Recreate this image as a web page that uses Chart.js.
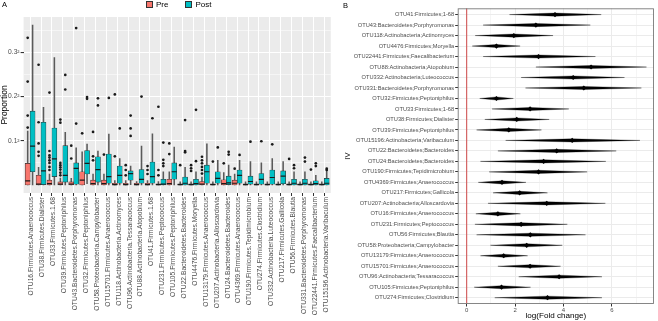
<!DOCTYPE html>
<html><head><meta charset="utf-8">
<script src="https://cdn.jsdelivr.net/npm/chart.js@4/dist/chart.umd.min.js"></script>
<style>
html,body{margin:0;padding:0;background:#fff;}
#wrap{position:relative;width:658px;height:321px;overflow:hidden;font-family:"Liberation Sans",Arial,sans-serif;}
#cA{position:absolute;left:0;top:0;}
#cB{position:absolute;left:336px;top:0;}
.tag{position:absolute;font-size:7.5px;color:#000;line-height:1;}
#legend{position:absolute;top:1px;left:146px;height:8px;font-size:8px;line-height:8px;color:#000;white-space:nowrap;}
#legend span.key{display:inline-block;width:5px;height:5px;border:0.8px solid #333;vertical-align:middle;margin-right:3px;}
#legend span.item{display:inline-block;vertical-align:middle;margin-right:17px;}
</style></head>
<body><div id="wrap">
<canvas id="cA" width="336" height="321" style="width:336px;height:321px"></canvas>
<canvas id="cB" width="322" height="321" style="width:322px;height:321px"></canvas>
<div class="tag" style="left:2px;top:1px">A</div>
<div class="tag" style="left:343px;top:2px">B</div>
<div id="legend"></div>
</div>
<script>
// ---------- Panel A data (values on the sqrt-proportion axis) ----------
const otuLabels = ["OTU16.Firmicutes.Anaerococcus","OTU38.Firmicutes.Dialister","OTU33.Firmicutes.1.68","OTU39.Firmicutes.Peptoniphilus","OTU43.Bacteroidetes.Porphyromonas","OTU32.Firmicutes.Peptoniphilus","OTU58.Proteobacteria.Campylobacter","OTU15701.Firmicutes.Anaerococcus","OTU118.Actinobacteria.Actinomyces","OTU96.Actinobacteria.Tessaracoccus","OTU88.Actinobacteria.Atopobium","OTU41.Firmicutes.1.68","OTU231.Firmicutes.Peptococcus","OTU105.Firmicutes.Peptoniphilus","OTU22.Bacteroidetes.Bacteroides","OTU4476.Firmicutes.Moryella","OTU13179.Firmicutes.Anaerococcus","OTU207.Actinobacteria.Alloscardovia","OTU24.Bacteroidetes.Bacteroides","OTU4369.Firmicutes.Anaerococcus","OTU190.Firmicutes.Tepidimicrobium","OTU274.Firmicutes.Clostridium","OTU332.Actinobacteria.Luteococcus","OTU217.Firmicutes.Gallicola","OTU56.Firmicutes.Blautia","OTU331.Bacteroidetes.Porphyromonas","OTU22441.Firmicutes.Faecalibacterium","OTU15196.Actinobacteria.Varibaculum"];
const seriesNames = ["Pre","Post"];
const seriesColors = ["#F8766D","#00BFC4"];

const preLow    = [0,0,0,0,0,0,0,0,0,0,0,0,0,0,0,0,0,0,0,0,0,0,0,0,0,0,0,0];
const preQ1     = [0,0,0,0,0,0,0,0,0,0,0,0,0,0,0,0,0,0,0,0,0,0,0,0,0,0,0,0];
const preMedian = [0.0095,0.002,0.003,0.002,0.002,0.011,0.003,0.003,0.001,0.001,0.001,0.001,0.001,0.003,0.001,0.001,0.002,0.001,0.003,0.004,0.001,0.001,0.001,0.001,0.001,0.001,0.001,0.001];
const preQ3     = [0.049,0.022,0.011,0.007,0.007,0.030,0.011,0.011,0.004,0.004,0.004,0.004,0.003,0.013,0.003,0.003,0.008,0.003,0.012,0.011,0.003,0.003,0.003,0.003,0.003,0.003,0.003,0.003];
const preHigh   = [0.122,0.040,0.025,0.016,0.015,0.075,0.025,0.025,0.010,0.010,0.008,0.010,0.008,0.030,0.007,0.007,0.018,0.007,0.028,0.025,0.007,0.007,0.007,0.007,0.007,0.007,0.007,0.007];
const preOutliers = [[0.333,0.234,0.157,0.130],[0.272,0.142,0.094,0.075,0.066],[0.209,0.077,0.067,0.062,0.056,0.050,0.041,0.034],[0.148,0.141,0.050,0.045,0.040,0.035,0.028,0.022],[0.089,0.060],[0.117],[0.120,0.065,0.056],[0.069],[0.205,0.065],[0.045,0.034,0.022],[],[0.043,0.034,0.025],[0.177,0.034,0.022],[0.094,0.070],[0.045],[0.045,0.038,0.032],[0.064,0.056,0.049,0.041,0.034,0.026],[0.053],[0.049],[0.037],[],[],[],[],[0.059],[],[0.035],[]];

const postLow    = [0,0,0,0,0,0.003,0,0,0,0.001,0,0,0,0,0,0,0,0,0,0,0,0,0,0,0,0,0,0];
const postQ1     = [0.030,0.001,0.019,0.0066,0.002,0.025,0.0066,0.004,0.004,0.011,0.004,0.004,0,0.013,0,0,0.004,0.004,0.001,0.004,0.002,0.002,0.002,0.003,0,0,0,0];
const postMedian = [0.088,0.032,0.059,0.022,0.0376,0.049,0.035,0.019,0.022,0.026,0.013,0.019,0.002,0.030,0.004,0.003,0.030,0.015,0.005,0.022,0.008,0.013,0.017,0.020,0.004,0.004,0.003,0.004];
const postQ3     = [0.167,0.142,0.129,0.089,0.050,0.078,0.064,0.070,0.043,0.032,0.035,0.052,0.013,0.050,0.018,0.013,0.045,0.030,0.020,0.034,0.020,0.026,0.034,0.032,0.013,0.013,0.0095,0.015];
const postHigh   = [0.362,0.176,0.288,0.119,0.084,0.0925,0.077,0.115,0.060,0.043,0.088,0.116,0.030,0.086,0.040,0.030,0.093,0.056,0.045,0.056,0.053,0.050,0.060,0.053,0.030,0.030,0.022,0.034];
const postOutliers = [[],[],[],[0.249,0.216],[0.355,0.139],[0.199,0.195],[0.196,0.180],[0.197],[0.128],[0.157,0.128,0.111],[0.200],[0.151],[0.096,0.057,0.049,0.043],[],[0.147,0.077,0.074],[0.170,0.054],[],[0.085],[0.075,0.069],[0.068],[0.098],[0.099],[0.092],[],[0.045,0.038],[0.062,0.053],[0.049,0.043],[0.037,0.034]];

const yMajorTicks = [0.1,0.2,0.3];
const yMajorLabels = ["0.1\u00B2","0.2\u00B2","0.3\u00B2"];
const yMinorTicks = [0.05,0.15,0.25,0.35];

// ---------- Panel B data ----------
const fcLabels = ["OTU41:Firmicutes;1-68","OTU43:Bacteroidetes;Porphyromonas","OTU118:Actinobacteria;Actinomyces","OTU4476:Firmicutes;Moryella","OTU22441:Firmicutes;Faecalibacterium","OTU88:Actinobacteria;Atopobium","OTU332:Actinobacteria;Luteococcus","OTU331:Bacteroidetes;Porphyromonas","OTU32:Firmicutes;Peptoniphilus","OTU33:Firmicutes;1-68","OTU38:Firmicutes;Dialister","OTU39:Firmicutes;Peptoniphilus","OTU15196:Actinobacteria;Varibaculum","OTU22:Bacteroidetes;Bacteroides","OTU24:Bacteroidetes;Bacteroides","OTU190:Firmicutes;Tepidimicrobium","OTU4369:Firmicutes;Anaerococcus","OTU217:Firmicutes;Gallicola","OTU207:Actinobacteria;Alloscardovia","OTU16:Firmicutes;Anaerococcus","OTU231:Firmicutes;Peptococcus","OTU56:Firmicutes;Blautia","OTU58:Proteobacteria;Campylobacter","OTU13179:Firmicutes;Anaerococcus","OTU15701:Firmicutes;Anaerococcus","OTU96:Actinobacteria;Tessaracoccus","OTU105:Firmicutes;Peptoniphilus","OTU274:Firmicutes;Clostridium"];
const fcMin  = [1.77,0.68,0.35,0.23,0.68,2.86,2.25,2.43,0.54,1.05,0.75,0.41,1.61,1.29,0.57,0.93,0.48,1.09,0.88,0.38,0.34,0.41,0.98,0.57,1.29,2.15,0.31,1.16];
const fcMode = [3.65,2.86,1.95,1.23,2.97,5.14,4.40,4.84,1.23,2.62,2.07,1.74,4.36,3.72,3.18,2.97,1.46,2.19,3.31,1.29,2.25,2.63,2.48,1.53,2.62,3.82,1.44,3.34];
const fcMax  = [5.56,5.11,3.57,2.21,5.32,7.43,6.52,7.22,1.93,4.22,3.41,3.09,7.16,6.18,5.75,4.98,2.45,3.34,5.73,2.22,4.16,4.91,3.95,2.52,3.88,5.59,2.64,5.59];
const fcXMajor = [0,2,4,6];
const fcXMinor = [1,3,5,7];
const fcRef = 0;

// ---------- helpers ----------
const FONT = "'Liberation Sans', Arial, sans-serif";
const TICK_COL = '#4d4d4d';
const DODGE = 0.225;

// HTML legend from series arrays
document.getElementById('legend').innerHTML = seriesNames.map((n,i)=>
  '<span class="item"><span class="key" style="background:'+seriesColors[i]+'"></span>'+n+'</span>').join('');

const panelBg = { id:'panelBg', beforeDraw(chart, args, o){ if(!o.color) return; const {ctx, chartArea:a} = chart; ctx.save(); ctx.fillStyle=o.color; ctx.fillRect(a.left,a.top,a.width,a.height); ctx.restore(); } };
const panelBorder = { id:'panelBorder', afterDraw(chart, args, o){ if(!o.color) return; const {ctx, chartArea:a} = chart; ctx.save(); ctx.strokeStyle=o.color; ctx.lineWidth=o.width||1; ctx.strokeRect(a.left+0.5,a.top+0.5,a.width-1,a.height-1); ctx.restore(); } };

function boxSets(idx, name, color, lo, q1, med, q3, hi, outs, off){
  const pos = otuLabels.map((_,i)=>i+off);
  return [
    { type:'bar', label:name+' whisker', data: pos.map((x,i)=>({x, y:[lo[i], hi[i]]})), backgroundColor:'#5a5a5a', barThickness:0.9, grouped:false, order:4 },
    { type:'bar', label:name, data: pos.map((x,i)=>({x, y:[q1[i], q3[i]]})), backgroundColor:color, borderColor:'#333', borderWidth:0.6, borderSkipped:false, barThickness:5, grouped:false, order:3 },
    { type:'scatter', label:name+' median', data: pos.map((x,i)=>({x, y:med[i]})), pointStyle:'line', pointRadius:2.5, borderColor:'#1a1a1a', borderWidth:1.2, order:2 },
    { type:'scatter', label:name+' outliers', data: pos.flatMap((x,i)=>outs[i].map(v=>({x, y:v}))), pointRadius:1.35, backgroundColor:'#1a1a1a', borderWidth:0, order:1 }
  ];
}

new Chart(document.getElementById('cA'), {
  type:'bar',
  data:{ datasets:[
    ...boxSets(0,'Pre', seriesColors[0], preLow, preQ1, preMedian, preQ3, preHigh, preOutliers, -DODGE),
    ...boxSets(1,'Post', seriesColors[1], postLow, postQ1, postMedian, postQ3, postHigh, postOutliers, DODGE)
  ]},
  options:{
    responsive:false, animation:false, events:[],
    layout:{ padding:{ top:17, right:1.4, left:0, bottom:0 } },
    plugins:{ legend:{display:false}, tooltip:{enabled:false}, panelBg:{color:'#EBEBEB'} },
    scales:{
      x:{ type:'linear', min:-0.6, max:27.6, offset:false,
        afterBuildTicks: s=>{ s.ticks = otuLabels.map((_,i)=>({value:i})); },
        afterFit: s=>{ s.height = 128; },
        border:{display:false},
        grid:{ color:'#ffffff', lineWidth:1, offset:false, tickColor:'#333', tickLength:3 },
        ticks:{ autoSkip:false, minRotation:90, maxRotation:90, padding:1, labelOffset:1.5, color:TICK_COL, font:{size:6.7, family:FONT}, callback:(v)=>otuLabels[v] }
      },
      y:{ type:'linear', min:-0.018, max:0.38,
        afterBuildTicks: s=>{ s.ticks = [...yMinorTicks, ...yMajorTicks].sort((a,b)=>a-b).map(v=>({value:v})); },
        afterFit: s=>{ s.width = 23.6; },
        border:{display:false},
        grid:{ color:'#ffffff', lineWidth: c=> yMajorTicks.includes(c.tick && c.tick.value) ? 1.1 : 0.5,
               tickColor: c=> yMajorTicks.includes(c.tick && c.tick.value) ? '#333' : 'rgba(0,0,0,0)', tickLength:3 },
        ticks:{ padding:1, color:TICK_COL, font:{size:6.7, family:FONT}, callback:(v)=>{ const k=yMajorTicks.indexOf(v); return k>=0 ? yMajorLabels[k] : ''; } },
        title:{ display:true, text:'Proportion', color:'#000', font:{size:8.5, family:FONT}, padding:{top:0,bottom:0} }
      }
    }
  },
  plugins:[panelBg]
});

// ---------- Panel B ----------
const VH = 0.15; // half thickness of violin shape in row units (style)
const violinSets = fcLabels.map((lab,r)=>({
  type:'scatter', label:lab, showLine:true, fill:'shape', tension:0,
  backgroundColor:'#000', borderColor:'#000', borderWidth:0.3, pointRadius:0,
  data:[{x:fcMin[r],y:r},{x:fcMode[r],y:r-VH},{x:fcMax[r],y:r},{x:fcMode[r],y:r+VH},{x:fcMin[r],y:r}],
  order:2
}));
const ROW_MIN = -0.6, ROW_MAX = fcLabels.length - 0.4;

new Chart(document.getElementById('cB'), {
  type:'scatter',
  data:{ datasets:[
    { label:'ref', showLine:true, data:[{x:fcRef,y:ROW_MIN},{x:fcRef,y:ROW_MAX}], borderColor:'rgba(205,70,70,0.6)', borderWidth:0.8, pointRadius:0, order:5 },
    ...violinSets,
    { label:'mode', data: fcMode.map((m,r)=>({x:m,y:r})), pointStyle:'rectRot', pointRadius:2.6, backgroundColor:'#000', borderWidth:0, order:1 }
  ]},
  options:{
    responsive:false, animation:false, events:[],
    layout:{ padding:{ top:8.3, right:2, left:0, bottom:0 } },
    plugins:{ legend:{display:false}, tooltip:{enabled:false}, panelBorder:{color:'#7a7a7a', width:0.9} },
    scales:{
      x:{ type:'linear', min:-0.37, max:7.74,
        afterBuildTicks: s=>{ s.ticks = [...fcXMajor, ...fcXMinor].sort((a,b)=>a-b).map(v=>({value:v})); },
        afterFit: s=>{ s.height = 17; },
        border:{display:false},
        grid:{ color:'#EBEBEB', lineWidth: c=> fcXMajor.includes(c.tick && c.tick.value) ? 1 : 0.5,
               tickColor: c=> fcXMajor.includes(c.tick && c.tick.value) ? '#333' : 'rgba(0,0,0,0)', tickLength:2.5 },
        ticks:{ padding:0.5, color:TICK_COL, font:{size:6, family:FONT}, callback:(v)=> fcXMajor.includes(v) ? String(v) : '' },
        title:{ display:true, text:'log(Fold change)', color:'#000', font:{size:8.1, family:FONT}, padding:{top:0,bottom:0} }
      },
      y:{ type:'linear', min:ROW_MIN, max:ROW_MAX, reverse:true,
        afterBuildTicks: s=>{ s.ticks = fcLabels.map((_,i)=>({value:i})); },
        afterFit: s=>{ s.width = 121.7; },
        border:{display:false},
        grid:{ color:'#EBEBEB', lineWidth:1, tickColor:'#333', tickLength:2.5 },
        ticks:{ autoSkip:false, padding:1, color:TICK_COL, font:{size:5.7, family:FONT}, callback:(v)=>fcLabels[v] },
        title:{ display:true, text:'IV', color:'#000', font:{size:7.5, family:FONT}, padding:{top:7,bottom:0} }
      }
    }
  },
  plugins:[panelBorder]
});
</script>
</body></html>
